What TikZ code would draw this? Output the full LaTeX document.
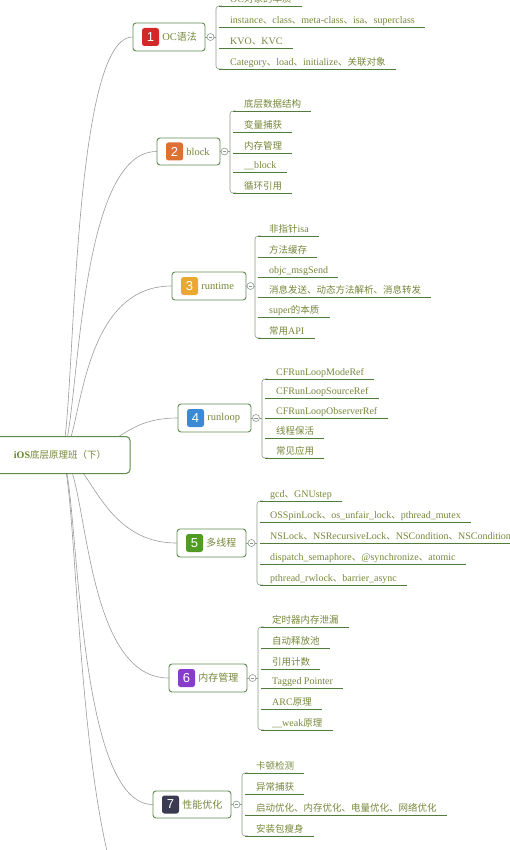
\documentclass[tikz,border=0pt]{standalone}
\usepackage{fontspec}
\setmainfont{Liberation Serif}
\newfontfamily\zhfont[Scale=0.95]{Noto Sans CJK SC}
\newfontfamily\numfont{Liberation Sans}
\newcommand{\zh}[1]{{\zhfont #1}}
\usepackage{tikz}
\usetikzlibrary{positioning,calc,backgrounds}

\definecolor{conngray}{RGB}{155,155,155}
\definecolor{boxgreen}{RGB}{95,140,78}
\definecolor{txtgreen}{RGB}{118,135,58}
\definecolor{rootgreen}{RGB}{95,138,30}
\definecolor{linegreen}{RGB}{78,124,58}
\definecolor{brkgray}{RGB}{140,152,140}
\definecolor{bred}{RGB}{210,40,40}
\definecolor{borange}{RGB}{222,112,52}
\definecolor{byellow}{RGB}{232,168,50}
\definecolor{bblue}{RGB}{60,138,215}
\definecolor{bgreen}{RGB}{80,155,35}
\definecolor{bpurple}{RGB}{135,60,205}
\definecolor{bdark}{RGB}{58,58,80}

\begin{document}
\begin{tikzpicture}[x=1pt,y=-1pt]
  \useasboundingbox (0,0) rectangle (510,850);
  \clip (0,0) rectangle (510,850);

  %% styles
  \tikzstyle{conn}=[draw=conngray, line width=0.6pt]
  \tikzstyle{rootbox}=[draw=boxgreen, line width=1pt, rounded corners=4pt, fill=white, minimum width=140pt, minimum height=37pt, text=txtgreen, font=\fontsize{10}{12}\selectfont]
  \tikzstyle{topic}=[draw=boxgreen, line width=0.9pt, rounded corners=3pt, fill=white, minimum height=28pt]
  \tikzstyle{badge}=[rounded corners=2.5pt, minimum width=17pt, minimum height=18pt, inner sep=0pt, text=white, font=\numfont\fontsize{13}{13}\selectfont]
  \tikzstyle{tlabel}=[text=txtgreen, inner sep=0pt, font=\fontsize{10.5}{12}\selectfont]
  \tikzstyle{item}=[anchor=south west, text=txtgreen, inner xsep=0pt, inner ysep=1.5pt, text depth=2pt, font=\fontsize{10}{12}\selectfont]
  \tikzstyle{uline}=[draw=linegreen, line width=0.9pt]
  \tikzstyle{brk}=[draw=brkgray, line width=0.6pt, rounded corners=3pt]
  \tikzstyle{fold}=[circle, draw=brkgray, fill=white, line width=0.6pt, minimum size=7pt, inner sep=0pt,
    path picture={\draw[brkgray, line width=0.5pt] ([xshift=1.8pt]path picture bounding box.west) -- ([xshift=-1.8pt]path picture bounding box.east);}]

  %% racine
  \node[rootbox] (R) at (60,455) {\textcolor{rootgreen}{\textbf{iOS}}\zh{底层原理班（下）}};
  \coordinate (off8) at (160,940);

  %% 1 OC语法
  \node[topic, minimum width=72pt] (B1) at (169,37) {};
  \node[badge, fill=bred] (b1) at (150.5,37) {1};
  \node[tlabel, right=3pt of b1] (t1) {OC\zh{语法}};
  \node[fold] (c1) at (210.5,37) {};
  \coordinate (k1) at (216,0);
  \node[item] (i10) at (230,6) {OC\zh{对象的本质}};
  \node[item] (i11) at (230,27) {instance\zh{、}class\zh{、}meta-class\zh{、}isa\zh{、}superclass};
  \node[item] (i12) at (230,48) {KVO\zh{、}KVC};
  \node[item] (i13) at (230,69) {Category\zh{、}load\zh{、}initialize\zh{、关联对象}};

  %% 2 block
  \node[topic, minimum width=63pt, minimum height=27pt] (B2) at (188.5,151.5) {};
  \node[badge, fill=borange] (b2) at (174.5,151.5) {2};
  \node[tlabel, right=3pt of b2] (t2) {block};
  \node[fold] (c2) at (224.5,151.5) {};
  \coordinate (k2) at (230,0);
  \node[item] (i20) at (244,111) {\zh{底层数据结构}};
  \node[item] (i21) at (244,132) {\zh{变量捕获}};
  \node[item] (i22) at (244,153) {\zh{内存管理}};
  \node[item] (i23) at (244,172) {\_\_block};
  \node[item] (i24) at (244,193) {\zh{循环引用}};

  %% 3 runtime
  \node[topic, minimum width=74pt] (B3) at (209,286) {};
  \node[badge, fill=byellow] (b3) at (189.5,286) {3};
  \node[tlabel, right=3pt of b3] (t3) {runtime};
  \node[fold] (c3) at (250.5,286) {};
  \coordinate (k3) at (255,0);
  \node[item] (i30) at (269,236) {\zh{非指针}isa};
  \node[item] (i31) at (269,257) {\zh{方法缓存}};
  \node[item] (i32) at (269,277) {objc\_msgSend};
  \node[item] (i33) at (269,297) {\zh{消息发送、动态方法解析、消息转发}};
  \node[item] (i34) at (269,317) {super\zh{的本质}};
  \node[item] (i35) at (269,338) {\zh{常用}API};

  %% 4 runloop
  \node[topic, minimum width=73pt] (B4) at (214.5,418) {};
  \node[badge, fill=bblue] (b4) at (195.5,418) {4};
  \node[tlabel, right=3pt of b4] (t4) {runloop};
  \node[fold] (c4) at (256,418) {};
  \coordinate (k4) at (262,0);
  \node[item] (i40) at (276,379) {CFRunLoopModeRef};
  \node[item] (i41) at (276,398) {CFRunLoopSourceRef};
  \node[item] (i42) at (276,418) {CFRunLoopObserverRef};
  \node[item] (i43) at (276,438) {\zh{线程保活}};
  \node[item] (i44) at (276,458) {\zh{常见应用}};

  %% 5 多线程
  \node[topic, minimum width=69pt] (B5) at (211.5,543) {};
  \node[badge, fill=bgreen] (b5) at (194.5,543) {5};
  \node[tlabel, right=3pt of b5] (t5) {\zh{多线程}};
  \node[fold] (c5) at (251.5,543) {};
  \coordinate (k5) at (257,0);
  \node[item] (i50) at (270,501) {gcd\zh{、}GNUstep};
  \node[item] (i51) at (270,522) {OSSpinLock\zh{、}os\_unfair\_lock\zh{、}pthread\_mutex};
  \node[item] (i52) at (270,543) {NSLock\zh{、}NSRecursiveLock\zh{、}NSCondition\zh{、}NSConditionLock};
  \node[item] (i53) at (270,564) {dispatch\_semaphore\zh{、}@synchronize\zh{、}atomic};
  \node[item] (i54) at (270,585) {pthread\_rwlock\zh{、}barrier\_async};

  %% 6 内存管理
  \node[topic, minimum width=78pt] (B6) at (208,678) {};
  \node[badge, fill=bpurple] (b6) at (186.5,678) {6};
  \node[tlabel, right=3pt of b6] (t6) {\zh{内存管理}};
  \node[fold] (c6) at (252.5,678) {};
  \coordinate (k6) at (258,0);
  \node[item] (i60) at (272,627) {\zh{定时器内存泄漏}};
  \node[item] (i61) at (272,648) {\zh{自动释放池}};
  \node[item] (i62) at (272,669) {\zh{引用计数}};
  \node[item] (i63) at (272,688) {Tagged Pointer};
  \node[item] (i64) at (272,709) {ARC\zh{原理}};
  \node[item] (i65) at (272,730) {\_\_weak\zh{原理}};

  %% 7 性能优化
  \node[topic, minimum width=78pt, minimum height=27pt] (B7) at (192,804.5) {};
  \node[badge, fill=bdark] (b7) at (170.5,804.5) {7};
  \node[tlabel, right=3pt of b7] (t7) {\zh{性能优化}};
  \node[fold] (c7) at (236.5,804.5) {};
  \coordinate (k7) at (242,0);
  \node[item] (i70) at (256,773) {\zh{卡顿检测}};
  \node[item] (i71) at (256,794) {\zh{异常捕获}};
  \node[item] (i72) at (256,815) {\zh{启动优化、内存优化、电量优化、网络优化}};
  \node[item] (i73) at (256,836) {\zh{安装包瘦身}};

  %% accolades + soulignes
  \draw[brk] ([xshift=6pt]k1 |- i10.south) -- (k1 |- i10.south) -- (k1 |- i13.south) -- ([xshift=6pt]k1 |- i13.south);
  \draw[brk] ([xshift=6pt]k2 |- i20.south) -- (k2 |- i20.south) -- (k2 |- i24.south) -- ([xshift=6pt]k2 |- i24.south);
  \draw[brk] ([xshift=6pt]k3 |- i30.south) -- (k3 |- i30.south) -- (k3 |- i35.south) -- ([xshift=6pt]k3 |- i35.south);
  \draw[brk] ([xshift=6pt]k4 |- i40.south) -- (k4 |- i40.south) -- (k4 |- i44.south) -- ([xshift=6pt]k4 |- i44.south);
  \draw[brk] ([xshift=6pt]k5 |- i50.south) -- (k5 |- i50.south) -- (k5 |- i54.south) -- ([xshift=6pt]k5 |- i54.south);
  \draw[brk] ([xshift=6pt]k6 |- i60.south) -- (k6 |- i60.south) -- (k6 |- i65.south) -- ([xshift=6pt]k6 |- i65.south);
  \draw[brk] ([xshift=6pt]k7 |- i70.south) -- (k7 |- i70.south) -- (k7 |- i73.south) -- ([xshift=6pt]k7 |- i73.south);
  \foreach \n in {i10,i11,i12,i13} \draw[uline] ([xshift=3pt]k1 |- \n.south) -- ([xshift=10pt]\n.south east);
  \foreach \n in {i20,i21,i22,i23,i24} \draw[uline] ([xshift=3pt]k2 |- \n.south) -- ([xshift=10pt]\n.south east);
  \foreach \n in {i30,i31,i32,i33,i34,i35} \draw[uline] ([xshift=3pt]k3 |- \n.south) -- ([xshift=10pt]\n.south east);
  \foreach \n in {i40,i41,i42,i43,i44} \draw[uline] ([xshift=3pt]k4 |- \n.south) -- ([xshift=10pt]\n.south east);
  \foreach \n in {i50,i51,i52,i53,i54} \draw[uline] ([xshift=3pt]k5 |- \n.south) -- ([xshift=10pt]\n.south east);
  \foreach \n in {i60,i61,i62,i63,i64,i65} \draw[uline] ([xshift=3pt]k6 |- \n.south) -- ([xshift=10pt]\n.south east);
  \foreach \n in {i70,i71,i72,i73} \draw[uline] ([xshift=3pt]k7 |- \n.south) -- ([xshift=10pt]\n.south east);

  %% boite -> rond -> accolade
  \draw[brk] (B1.east) -- (c1.west) (c1.east) -- (c1 -| k1);
  \draw[brk] (B2.east) -- (c2.west) (c2.east) -- (c2 -| k2);
  \draw[brk] (B3.east) -- (c3.west) (c3.east) -- (c3 -| k3);
  \draw[brk] (B4.east) -- (c4.west) (c4.east) -- (c4 -| k4);
  \draw[brk] (B5.east) -- (c5.west) (c5.east) -- (c5 -| k5);
  \draw[brk] (B6.east) -- (c6.west) (c6.east) -- (c6 -| k6);
  \draw[brk] (B7.east) -- (c7.west) (c7.east) -- (c7 -| k7);

  %% branches depuis la racine
  \begin{scope}[on background layer]
    \draw[conn] (R.center) .. controls +(16,0) and +(-65,0) .. (B1.west);
    \draw[conn] (R.center) .. controls +(20,0) and +(-85,0) .. (B2.west);
    \draw[conn] (R.center) .. controls +(23,0) and +(-99,0) .. (B3.west);
    \draw[conn] (R.center) .. controls +(59,0) and +(-59,0) .. (B4.west);
    \draw[conn] (R.center) .. controls +(30,0) and +(-77,0) .. (B5.west);
    \draw[conn] (R.center) .. controls +(29,0) and +(-90,0) .. (B6.west);
    \draw[conn] (R.center) .. controls +(20,0) and +(-82,0) .. (B7.west);
    \draw[conn] (R.center) .. controls +(21,0) and +(-88,0) .. (off8);
  \end{scope}
\end{tikzpicture}
\end{document}
